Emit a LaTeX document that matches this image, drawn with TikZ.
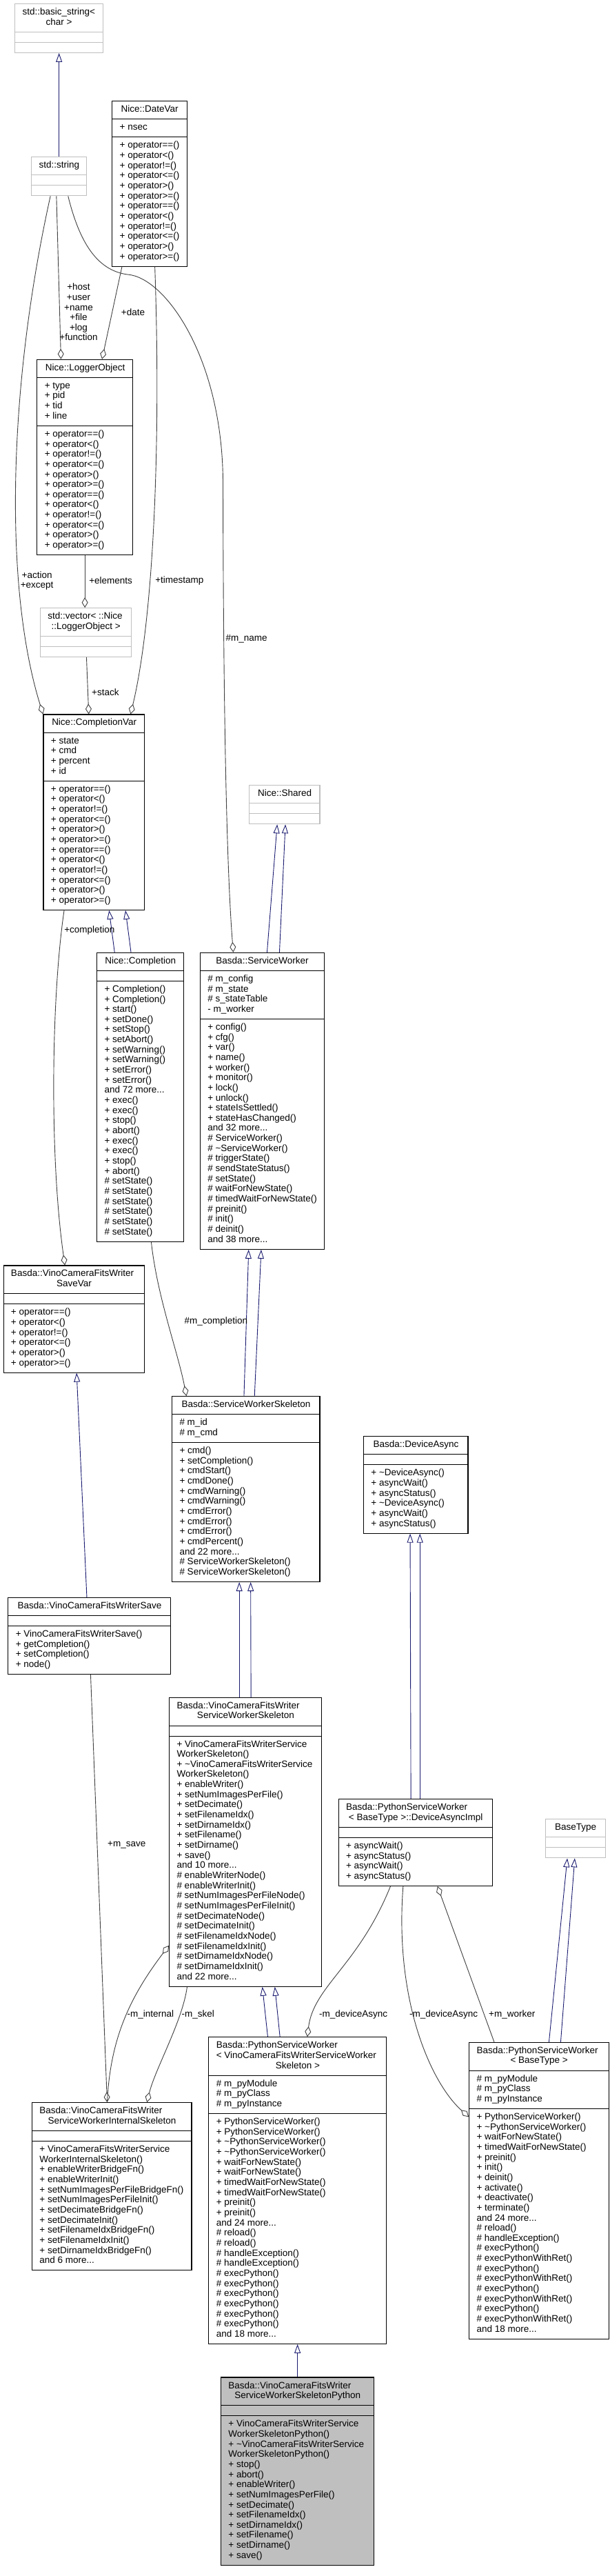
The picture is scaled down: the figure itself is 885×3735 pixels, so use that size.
\documentclass[tikz,border=0pt]{standalone}
\usepackage{fontspec}
\setmainfont{Liberation Sans}
\usetikzlibrary{arrows.meta,calc,fit,backgrounds}
\definecolor{navyc}{RGB}{25,25,112}
\definecolor{darkc}{RGB}{64,64,64}
\definecolor{grey75}{RGB}{191,191,191}

\newcommand\ttab[2]{\begin{tabular}{@{}p{\dimexpr#1pt-21.4pt\relax}@{}}#2\end{tabular}}
\newcommand\mtab[1]{\begin{tabular}{@{}l@{}}#1\end{tabular}}
\newcommand\ctr[1]{\makebox[\linewidth][c]{#1}}
\newcommand\lft[1]{\makebox[\linewidth][l]{#1}}
\newcommand\ops{+ operator==()\\+ operator<()\\+ operator!=()\\+ operator<=()\\+ operator>()\\+ operator>=()}

\newcommand\umlclass[8]{%
  \coordinate (#1-nw) at (#3,-#4);
  \node[txt,anchor=north west] (#1-t) at ($(#1-nw)+(10.7,-5.5)$) {\ttab{#5}{#6}};
  \node[txt,anchor=north west] (#1-a) at ($(#1-t.south west)+(0,-11)$) {\mtab{#7}};
  \node[txt,anchor=north west] (#1-m) at ($(#1-a.south west)+(0,-11)$) {\mtab{#8}};
  \coordinate (#1-se) at ($(#1-nw |- #1-m.south)+(#5,-5.5)$);
  \begin{scope}[on background layer]
    \node[#2,fit=(#1-nw)(#1-se)] (#1) {};
    \draw[#2,fill=none] ($(#1-nw |- #1-t.south)+(0,-5.5)$) -- ++(#5,0);
    \draw[#2,fill=none] ($(#1-nw |- #1-a.south)+(0,-5.5)$) -- ++(#5,0);
  \end{scope}}

\tikzset{
  txt/.style={inner sep=0pt, font=\fontsize{13.5}{14.66}\selectfont},
  lbl/.style={inner sep=0pt, align=center, font=\fontsize{13.5}{14.66}\selectfont},
  cls/.style={draw=black, line width=1.1pt, inner sep=0pt},
  ucls/.style={draw=grey75, line width=1.1pt, inner sep=0pt},
  fcls/.style={draw=black, fill=grey75, line width=1.1pt, inner sep=0pt},
  inh/.style={draw=navyc, line width=0.9pt, -{Triangle[open,length=13pt,width=9pt]}},
  agg/.style={draw=darkc, line width=0.9pt, -{Diamond[open,length=15pt,width=9pt]}},
}

\begin{document}
\begin{tikzpicture}[x=1pt,y=1pt]
\useasboundingbox (0,0) rectangle (885,-3735);
\begin{scope}[on background layer]
  \fill[white] (0,0) rectangle (885,-3735);
\end{scope}

\umlclass{bs}{ucls}{21.6}{5.7}{127.6}{\lft{std::basic\_string<}\\\ctr{char >}}{}{}
\umlclass{dv}{cls}{162.8}{146.7}{108.3}{\ctr{Nice::DateVar}}{+ nsec}{\ops\\\ops}
\umlclass{str}{ucls}{45.4}{227.7}{80.5}{\ctr{std::string}}{}{}
\umlclass{lo}{cls}{53.9}{521.3}{139}{\ctr{Nice::LoggerObject}}{+ type\\+ pid\\+ tid\\+ line}{\ops\\\ops}
\umlclass{vec}{ucls}{58.4}{881.7}{132.2}{\lft{std::vector< ::Nice}\\\ctr{::LoggerObject >}}{}{}
\umlclass{cv}{cls}{63}{1036}{146.9}{\ctr{Nice::CompletionVar}}{+ state\\+ cmd\\+ percent\\+ id}{\ops\\\ops}
\umlclass{sh}{ucls}{361.9}{1138.7}{102.1}{\ctr{Nice::Shared}}{}{}
\umlclass{comp}{cls}{140.7}{1381.3}{125.9}{\ctr{Nice::Completion}}{}{+ Completion()\\+ Completion()\\+ start()\\+ setDone()\\+ setStop()\\+ setAbort()\\+ setWarning()\\+ setWarning()\\+ setError()\\+ setError()\\and 72 more...\\+ exec()\\+ exec()\\+ stop()\\+ abort()\\+ exec()\\+ exec()\\+ stop()\\+ abort()\\\# setState()\\\# setState()\\\# setState()\\\# setState()\\\# setState()\\\# setState()}
\umlclass{sw}{cls}{290.4}{1381.3}{179.8}{\ctr{Basda::ServiceWorker}}{\# m\_config\\\# m\_state\\\# s\_stateTable\\- m\_worker}{+ config()\\+ cfg()\\+ var()\\+ name()\\+ worker()\\+ monitor()\\+ lock()\\+ unlock()\\+ stateIsSettled()\\+ stateHasChanged()\\and 32 more...\\\# ServiceWorker()\\\# \textasciitilde ServiceWorker()\\\# triggerState()\\\# sendStateStatus()\\\# setState()\\\# waitForNewState()\\\# timedWaitForNewState()\\\# preinit()\\\# init()\\\# deinit()\\and 38 more...}
\umlclass{sv}{cls}{5.1}{1835}{204.2}{\lft{Basda::VinoCameraFitsWriter}\\\ctr{SaveVar}}{}{\ops}
\umlclass{sws}{cls}{249.6}{2024.7}{214.4}{\ctr{Basda::ServiceWorkerSkeleton}}{\# m\_id\\\# m\_cmd}{+ cmd()\\+ setCompletion()\\+ cmdStart()\\+ cmdDone()\\+ cmdWarning()\\+ cmdWarning()\\+ cmdError()\\+ cmdError()\\+ cmdError()\\+ cmdPercent()\\and 22 more...\\\# ServiceWorkerSkeleton()\\\# ServiceWorkerSkeleton()}
\umlclass{da}{cls}{527.5}{2082.7}{151.5}{\ctr{Basda::DeviceAsync}}{}{+ \textasciitilde DeviceAsync()\\+ asyncWait()\\+ asyncStatus()\\+ \textasciitilde DeviceAsync()\\+ asyncWait()\\+ asyncStatus()}
\umlclass{save}{cls}{11.9}{2316.3}{236}{\ctr{Basda::VinoCameraFitsWriterSave}}{}{+ VinoCameraFitsWriterSave()\\+ getCompletion()\\+ setCompletion()\\+ node()}
\umlclass{vws}{cls}{245.6}{2461.3}{221.2}{\lft{Basda::VinoCameraFitsWriter}\\\ctr{ServiceWorkerSkeleton}}{}{+ VinoCameraFitsWriterService\\WorkerSkeleton()\\+ \textasciitilde VinoCameraFitsWriterService\\WorkerSkeleton()\\+ enableWriter()\\+ setNumImagesPerFile()\\+ setDecimate()\\+ setFilenameIdx()\\+ setDirnameIdx()\\+ setFilename()\\+ setDirname()\\+ save()\\and 10 more...\\\# enableWriterNode()\\\# enableWriterInit()\\\# setNumImagesPerFileNode()\\\# setNumImagesPerFileInit()\\\# setDecimateNode()\\\# setDecimateInit()\\\# setFilenameIdxNode()\\\# setFilenameIdxInit()\\\# setDirnameIdxNode()\\\# setDirnameIdxInit()\\and 22 more...}
\umlclass{dai}{cls}{491.2}{2608.7}{223.5}{\lft{Basda::PythonServiceWorker}\\\ctr{< BaseType >::DeviceAsyncImpl}}{}{+ asyncWait()\\+ asyncStatus()\\+ asyncWait()\\+ asyncStatus()}
\umlclass{bt}{ucls}{791.3}{2637.7}{87.3}{\ctr{BaseType}}{}{}
\umlclass{psv}{cls}{302.9}{2953.7}{257.5}{\lft{Basda::PythonServiceWorker}\\\lft{< VinoCameraFitsWriterServiceWorker}\\\ctr{Skeleton >}}{\# m\_pyModule\\\# m\_pyClass\\\# m\_pyInstance}{+ PythonServiceWorker()\\+ PythonServiceWorker()\\+ \textasciitilde PythonServiceWorker()\\+ \textasciitilde PythonServiceWorker()\\+ waitForNewState()\\+ waitForNewState()\\+ timedWaitForNewState()\\+ timedWaitForNewState()\\+ preinit()\\+ preinit()\\and 24 more...\\\# reload()\\\# reload()\\\# handleException()\\\# handleException()\\\# execPython()\\\# execPython()\\\# execPython()\\\# execPython()\\\# execPython()\\\# execPython()\\and 18 more...}
\umlclass{isk}{cls}{46.5}{3048.7}{231.5}{\lft{Basda::VinoCameraFitsWriter}\\\ctr{ServiceWorkerInternalSkeleton}}{}{+ VinoCameraFitsWriterService\\WorkerInternalSkeleton()\\+ enableWriterBridgeFn()\\+ enableWriterInit()\\+ setNumImagesPerFileBridgeFn()\\+ setNumImagesPerFileInit()\\+ setDecimateBridgeFn()\\+ setDecimateInit()\\+ setFilenameIdxBridgeFn()\\+ setFilenameIdxInit()\\+ setDirnameIdxBridgeFn()\\and 6 more...}
\umlclass{psb}{cls}{680.7}{2961.3}{202.5}{\lft{Basda::PythonServiceWorker}\\\ctr{< BaseType >}}{\# m\_pyModule\\\# m\_pyClass\\\# m\_pyInstance}{+ PythonServiceWorker()\\+ \textasciitilde PythonServiceWorker()\\+ waitForNewState()\\+ timedWaitForNewState()\\+ preinit()\\+ init()\\+ deinit()\\+ activate()\\+ deactivate()\\+ terminate()\\and 24 more...\\\# reload()\\\# handleException()\\\# execPython()\\\# execPythonWithRet()\\\# execPython()\\\# execPythonWithRet()\\\# execPython()\\\# execPythonWithRet()\\\# execPython()\\\# execPythonWithRet()\\and 18 more...}
\umlclass{fin}{fcls}{320.5}{3447}{222.3}{\lft{Basda::VinoCameraFitsWriter}\\\ctr{ServiceWorkerSkeletonPython}}{}{+ VinoCameraFitsWriterService\\WorkerSkeletonPython()\\+ \textasciitilde VinoCameraFitsWriterService\\WorkerSkeletonPython()\\+ stop()\\+ abort()\\+ enableWriter()\\+ setNumImagesPerFile()\\+ setDecimate()\\+ setFilenameIdx()\\+ setDirnameIdx()\\+ setFilename()\\+ setDirname()\\+ save()}

% inheritance
\draw[inh] (str.north) -- (str.north |- bs.south);
\draw[inh] ([xshift=26.1]comp.north west) -- ([xshift=95.8]cv.south west);
\draw[inh] ([xshift=49.9]comp.north west) -- ([xshift=119.6]cv.south west);
\draw[inh] ([xshift=97.6]sw.north west) -- ([xshift=40.8]sh.south west);
\draw[inh] ([xshift=115.6]sw.north west) -- ([xshift=52.7]sh.south west);
\draw[inh] ([xshift=104.9]sws.north west) -- ([xshift=70.9]sw.south west);
\draw[inh] ([xshift=120.2]sws.north west) -- ([xshift=89.1]sw.south west);
\draw[inh] ([xshift=114.6]save.north west) -- ([xshift=106.6]sv.south west);
\draw[inh] ([xshift=102.1]vws.north west) -- ([xshift=98.1]sws.south west);
\draw[inh] ([xshift=119.1]vws.north west) -- ([xshift=114.6]sws.south west);
\draw[inh] ([xshift=105.5]dai.north west) -- ([xshift=68.1]da.south west);
\draw[inh] ([xshift=118.6]dai.north west) -- ([xshift=82.3]da.south west);
\draw[inh] ([xshift=116.3]psb.north west) -- ([xshift=32.3]bt.south west);
\draw[inh] ([xshift=133.3]psb.north west) -- ([xshift=43.1]bt.south west);
\draw[inh] ([xshift=86.1]psv.north west) -- ([xshift=135.6]vws.south west);
\draw[inh] ([xshift=103.8]psv.north west) -- ([xshift=153.7]vws.south west);
\draw[inh] (fin.north) -- (psv.south);

% aggregation / usage
\draw[agg] ([xshift=37]str.south west) -- ([xshift=35.1]lo.north west);
\draw[agg] ([xshift=14.7]dv.south west) -- ([xshift=94.7]lo.north west);
\draw[agg] ([xshift=28.3]str.south west) .. controls (12,-560) and (5,-850) .. (cv.north west);
\draw[agg] ([xshift=62.4]dv.south west) .. controls (234,-650) and (222,-900) .. ([xshift=127]cv.north west);
\draw[agg] ([xshift=67.6]vec.south west) -- ([xshift=66.3]cv.north west);
\draw[agg] ([xshift=69.8]lo.south west) -- ([xshift=65.3]vec.north west);
\draw[agg] ([xshift=53.9]str.south west) .. controls (115,-350) and (140,-392) .. (185,-398)
   .. controls (240,-402) and (323,-520) .. (323.5,-700)
   .. controls (324,-1000) and (328,-1250) .. ([xshift=48.6]sw.north west);
\draw[agg] ([xshift=30.6]cv.south west) .. controls (74,-1450) and (72,-1680) .. ([xshift=89.6]sv.north west);
\draw[agg] ([xshift=79.3]comp.south west) .. controls (228,-1880) and (258,-1960) .. ([xshift=21.4]sws.north west);
\draw[agg] ([xshift=120.1]save.south west) -- ([xshift=109.5]isk.north west);
\draw[agg] ([xshift=109.5]isk.north west) .. controls (160,-2960) and (185,-2900) .. ([yshift=60]vws.south west);
\draw[agg] ([xshift=26.4]vws.south west) .. controls (265,-2930) and (225,-3000) .. ([xshift=167.3]isk.north west);
\draw[agg] ([xshift=75.8]dai.south west) .. controls (520,-2850) and (455,-2880) .. ([xshift=143.5]psv.north west);
\draw[agg] ([xshift=94.2]dai.south west) .. controls (572,-2900) and (625,-3020) .. ([yshift=-108.5]psb.north west);
\draw[agg] ([xshift=36.8]psb.north west) -- ([xshift=144.1]dai.south west);

% labels
\node[lbl] (l-host) at (114,-452.5) {+host\\+user\\+name\\+file\\+log\\+function};
\node[lbl] (l-date) at (193,-453) {+date};
\node[lbl] (l-act) at (53.6,-842) {+action\\+except};
\node[lbl] (l-el) at (160.6,-841.7) {+elements};
\node[lbl] (l-ts) at (260.4,-841.7) {+timestamp};
\node[lbl] (l-mn) at (357.7,-926.7) {\#m\_name};
\node[lbl] (l-st) at (152.9,-1004) {+stack};
\node[lbl] (l-cp) at (129.9,-1348.7) {+completion};
\node[lbl] (l-mc) at (313.4,-1916.3) {\#m\_completion};
\node[lbl] (l-ms) at (183.8,-2675) {+m\_save};
\node[lbl] (l-mi) at (218.4,-2921.3) {-m\_internal};
\node[lbl] (l-sk) at (287.3,-2921.3) {-m\_skel};
\node[lbl] (l-da1) at (512.6,-2921.3) {-m\_deviceAsync};
\node[lbl] (l-da2) at (643.7,-2921.3) {-m\_deviceAsync};
\node[lbl] (l-wk) at (742.7,-2921.3) {+m\_worker};
\end{tikzpicture}
\end{document}
